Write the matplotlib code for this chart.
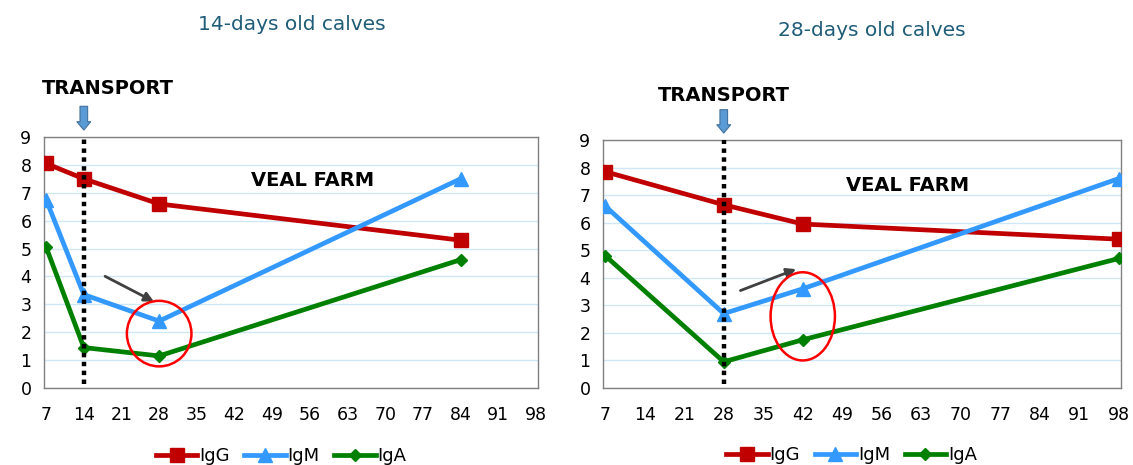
import matplotlib
matplotlib.use("Agg")
import matplotlib.pyplot as plt
from matplotlib.patches import Ellipse

# ---- data ----
xticks = [7, 14, 21, 28, 35, 42, 49, 56, 63, 70, 77, 84, 91, 98]
yticks = [0, 1, 2, 3, 4, 5, 6, 7, 8, 9]

days_14 = [7, 14, 28, 84]
igg_14 = [8.05, 7.5, 6.6, 5.3]
igm_14 = [6.75, 3.35, 2.4, 7.5]
iga_14 = [5.05, 1.45, 1.15, 4.6]
transport_14 = 14

days_28 = [7, 28, 42, 98]
igg_28 = [7.85, 6.65, 5.95, 5.4]
igm_28 = [6.6, 2.7, 3.6, 7.6]
iga_28 = [4.8, 0.95, 1.75, 4.7]
transport_28 = 28

titles = ["14-days old calves", "28-days old calves"]
series_names = ["IgG", "IgM", "IgA"]

C_IGG = "#C00000"
C_IGM = "#3399FF"
C_IGA = "#008000"
TITLE_C = "#1F5C78"

fig = plt.figure(figsize=(11.33, 4.65), dpi=100)
W, H = 1133, 465

def ax_rect(l, r, t, b):
    return [l / W, 1 - b / H, (r - l) / W, (b - t) / H]

ax1 = fig.add_axes(ax_rect(44, 538, 137, 388))
ax2 = fig.add_axes(ax_rect(603, 1121, 140, 388))

configs = [
    (ax1, days_14, igg_14, igm_14, iga_14, transport_14,
     (56.5, 7.45), ((17.5, 4.05), (27.5, 3.05)), (28, 1.95, 12.0, 2.35)),
    (ax2, days_28, igg_28, igm_28, iga_28, transport_28,
     (60.5, 7.35), ((30.5, 3.5), (41.3, 4.35)), (42, 2.6, 11.4, 3.2)),
]

for ax, d, g, m, a, tr, veal, arr, ell in configs:
    ax.set_xlim(6.6, 98.4)
    ax.set_ylim(0, 9)
    ax.set_yticks(yticks)
    ax.set_xticks(xticks)
    ax.grid(axis="y", color="#CFE8F8", linewidth=1.0)
    ax.set_axisbelow(True)
    for s in ax.spines.values():
        s.set_color("#808080")
        s.set_linewidth(1.0)
    ax.tick_params(length=0, labelsize=12.5, pad=9)
    ax.tick_params(axis="x", pad=13)
    ax.plot(d, g, color=C_IGG, lw=3.4, marker="s", ms=9.5, label="IgG", zorder=3)
    ax.plot(d, m, color=C_IGM, lw=3.4, marker="^", ms=9.5, label="IgM", zorder=3)
    ax.plot(d, a, color=C_IGA, lw=3.4, marker="D", ms=6.5, label="IgA", zorder=3)
    ax.plot([tr, tr], [0.15, 9.0], color="black", lw=3.2, ls=(0, (1, 1)), zorder=4)
    ax.text(veal[0], veal[1], "VEAL FARM", fontsize=14, fontweight="bold",
            ha="center", va="center")
    ax.annotate("", xy=arr[1], xytext=arr[0],
                arrowprops=dict(arrowstyle="-|>", color="#404040", lw=2,
                                mutation_scale=14))
    ax.add_patch(Ellipse((ell[0], ell[1]), ell[2], ell[3], fill=False,
                         edgecolor="#FF0000", lw=1.8, zorder=5))
    # Transport arrow above axes
    ax.annotate("", xy=(tr, 9.15), xytext=(tr, 10.2), annotation_clip=False,
                arrowprops=dict(arrowstyle="simple,head_width=1.0,head_length=0.6,tail_width=0.55",
                                facecolor="#5B9BD5", edgecolor="#41719C", lw=0.8))
    ax.legend(loc="upper center", bbox_to_anchor=(0.48, -0.17), ncol=3,
              frameon=False, fontsize=13, handlelength=2.3,
              handletextpad=0.1, columnspacing=0.8)

ax1.text(18.5, 10.75, "TRANSPORT", fontsize=14, fontweight="bold", ha="center",
         va="center", clip_on=False)
ax2.text(28, 10.6, "TRANSPORT", fontsize=14, fontweight="bold", ha="center",
         va="center", clip_on=False)

fig.text(292 / W, 1 - 24 / H, titles[0], fontsize=14.5, color=TITLE_C,
         ha="center", va="center")
fig.text(872 / W, 1 - 31 / H, titles[1], fontsize=14.5, color=TITLE_C,
         ha="center", va="center")

fig.savefig("out.png", dpi=100)
